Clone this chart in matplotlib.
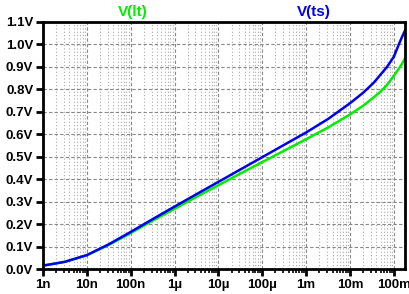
import matplotlib.pyplot as plt
from matplotlib.ticker import LogLocator, NullFormatter

plt.rcParams['font.family'] = ['Liberation Sans', 'DejaVu Sans']

# time points (seconds)
t = [1e-9, 3.16e-9, 1e-8, 3.16e-8, 1e-7, 3.16e-7, 1e-6, 3.16e-6, 1e-5, 3.16e-5,
     1e-4, 3.16e-4, 1e-3, 3.16e-3, 1e-2, 2e-2, 3.5e-2, 5e-2, 7e-2, 1e-1,
     1.3e-1, 1.55e-1, 1.8e-1]
v_ts = [0.015, 0.032, 0.062, 0.110, 0.165, 0.222, 0.278, 0.333, 0.388, 0.443,
        0.498, 0.553, 0.608, 0.668, 0.738, 0.785, 0.830, 0.866, 0.900, 0.945,
        1.000, 1.035, 1.062]
v_lt = [0.015, 0.032, 0.061, 0.107, 0.160, 0.215, 0.268, 0.321, 0.373, 0.425,
        0.476, 0.527, 0.578, 0.630, 0.688, 0.727, 0.765, 0.790, 0.820, 0.860,
        0.892, 0.915, 0.938]

yticks = [0.0, 0.1, 0.2, 0.3, 0.4, 0.5, 0.6, 0.7, 0.8, 0.9, 1.0, 1.1]
ylabels = ['0.0V', '0.1V', '0.2V', '0.3V', '0.4V', '0.5V', '0.6V', '0.7V', '0.8V', '0.9V', '1.0V', '1.1V']
xticks = [1e-9, 1e-8, 1e-7, 1e-6, 1e-5, 1e-4, 1e-3, 1e-2, 1e-1]
xlabels = ['1n', '10n', '100n', '1µ', '10µ', '100µ', '1m', '10m', '100m']

fig = plt.figure(figsize=(4.10, 2.94), dpi=100)
ax = fig.add_axes([43/410, 1-269/294, (405-43)/410, (269-22)/294])

ax.plot(t, v_lt, color='#00ee00', lw=1.8)
ax.plot(t, v_ts, color='#0000ee', lw=1.8)

ax.set_xscale('log')
ax.set_xlim(1e-9, 1.8e-1)
ax.set_ylim(0, 1.1)
ax.set_xticks(xticks)
ax.set_xticklabels(xlabels)
ax.xaxis.set_minor_locator(LogLocator(base=10, subs=range(2, 10), numticks=20))
ax.xaxis.set_minor_formatter(NullFormatter())
ax.set_yticks(yticks)
ax.set_yticklabels(ylabels)

for lab in ax.get_xticklabels() + ax.get_yticklabels():
    lab.set_fontweight('bold')
    lab.set_fontsize(9.5)

ax.tick_params(axis='both', which='major', direction='out', length=5, width=2, pad=2)
ax.tick_params(axis='x', which='minor', direction='out', length=3, width=1.2)
ax.grid(True, which='major', color='#888888', ls=(0, (3, 2)), lw=0.8)
ax.grid(True, which='minor', axis='x', color='#aaaaaa', ls=(0, (1, 2)), lw=0.8)
for s in ax.spines.values():
    s.set_linewidth(2)

fig.text(133/410, 1-12/294, 'V(lt)', color='#00ee00', fontsize=11, fontweight='bold', ha='center', va='center')
fig.text(314/410, 1-12/294, 'V(ts)', color='#0000ee', fontsize=11, fontweight='bold', ha='center', va='center')

fig.savefig('out.png', dpi=100)
